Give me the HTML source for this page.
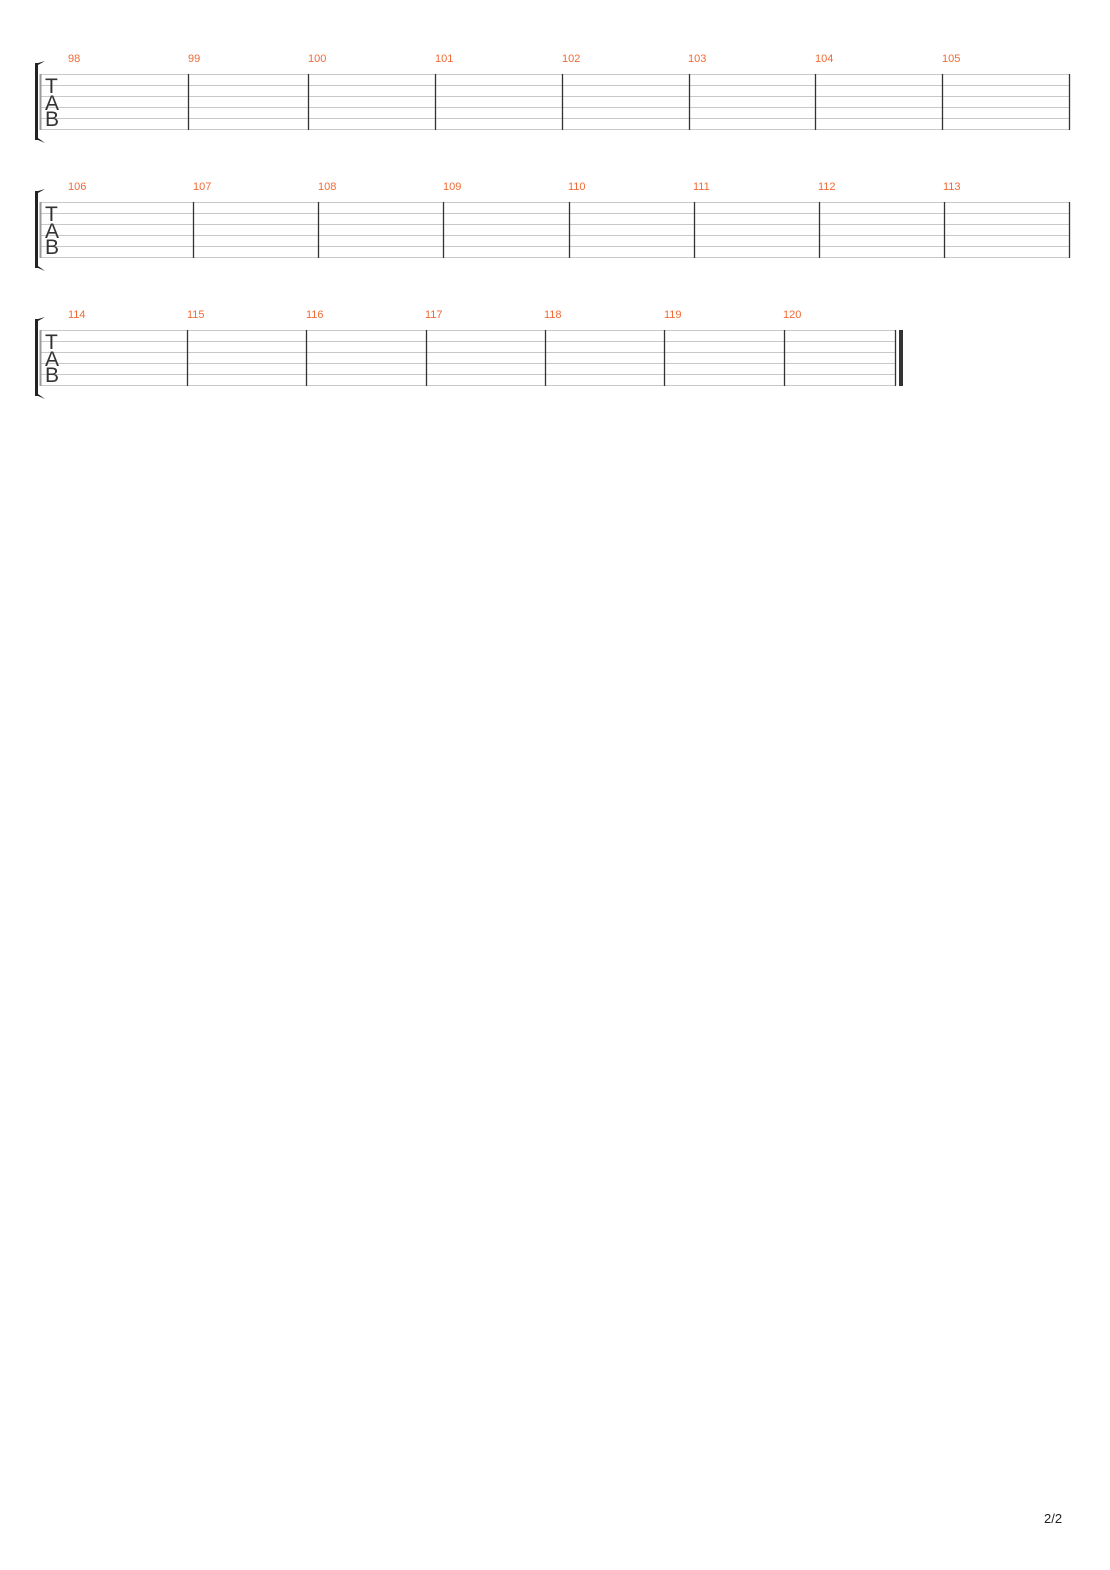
<!DOCTYPE html>
<html><head><meta charset="utf-8"><style>
html,body{margin:0;padding:0;background:#fff;}
svg{display:block}
</style></head><body>
<svg width="1110" height="1570" xmlns="http://www.w3.org/2000/svg" font-family="Liberation Sans, sans-serif">
<g id="s1">
  <g stroke="#c8c8c8" stroke-width="1">
    <line x1="40" y1="74.5" x2="1070" y2="74.5"/><line x1="40" y1="85.5" x2="1070" y2="85.5"/>
    <line x1="40" y1="96.5" x2="1070" y2="96.5"/><line x1="40" y1="107.5" x2="1070" y2="107.5"/>
    <line x1="40" y1="118.5" x2="1070" y2="118.5"/><line x1="40" y1="129.5" x2="1070" y2="129.5"/>
  </g>
  <line x1="40.5" y1="74" x2="40.5" y2="130" stroke="#999" stroke-width="2"/>
  <g stroke="#333" stroke-width="1.3">
    <line x1="188.5" y1="74" x2="188.5" y2="130"/><line x1="308.5" y1="74" x2="308.5" y2="130"/>
    <line x1="435.5" y1="74" x2="435.5" y2="130"/><line x1="562.5" y1="74" x2="562.5" y2="130"/>
    <line x1="689.5" y1="74" x2="689.5" y2="130"/><line x1="815.5" y1="74" x2="815.5" y2="130"/>
    <line x1="942.5" y1="74" x2="942.5" y2="130"/><line x1="1069.5" y1="74" x2="1069.5" y2="130"/>
  </g>
  <path d="M45,61 L38,63 L35,63 L35,140 L38,140 L45,143 L38,138 L38,65 Z" fill="#222"/>
  <g font-size="21" fill="#333"><text x="45" y="93">T</text><text x="45" y="110">A</text><text x="45" y="126">B</text></g>
  <g font-size="11" fill="#f06a35">
    <text x="68" y="62">98</text><text x="188" y="62">99</text><text x="308" y="62">100</text><text x="435" y="62">101</text>
    <text x="562" y="62">102</text><text x="688" y="62">103</text><text x="815" y="62">104</text><text x="942" y="62">105</text>
  </g>
</g>
<g transform="translate(0,128)">
  <g stroke="#c8c8c8" stroke-width="1">
    <line x1="40" y1="74.5" x2="1070" y2="74.5"/><line x1="40" y1="85.5" x2="1070" y2="85.5"/>
    <line x1="40" y1="96.5" x2="1070" y2="96.5"/><line x1="40" y1="107.5" x2="1070" y2="107.5"/>
    <line x1="40" y1="118.5" x2="1070" y2="118.5"/><line x1="40" y1="129.5" x2="1070" y2="129.5"/>
  </g>
  <line x1="40.5" y1="74" x2="40.5" y2="130" stroke="#999" stroke-width="2"/>
  <g stroke="#333" stroke-width="1.3">
    <line x1="193.5" y1="74" x2="193.5" y2="130"/><line x1="318.5" y1="74" x2="318.5" y2="130"/>
    <line x1="443.5" y1="74" x2="443.5" y2="130"/><line x1="569.5" y1="74" x2="569.5" y2="130"/>
    <line x1="694.5" y1="74" x2="694.5" y2="130"/><line x1="819.5" y1="74" x2="819.5" y2="130"/>
    <line x1="944.5" y1="74" x2="944.5" y2="130"/><line x1="1069.5" y1="74" x2="1069.5" y2="130"/>
  </g>
  <path d="M45,61 L38,63 L35,63 L35,140 L38,140 L45,143 L38,138 L38,65 Z" fill="#222"/>
  <g font-size="21" fill="#333"><text x="45" y="93">T</text><text x="45" y="110">A</text><text x="45" y="126">B</text></g>
  <g font-size="11" fill="#f06a35">
    <text x="68" y="62">106</text><text x="193" y="62">107</text><text x="318" y="62">108</text><text x="443" y="62">109</text>
    <text x="568" y="62">110</text><text x="693" y="62">111</text><text x="818" y="62">112</text><text x="943" y="62">113</text>
  </g>
</g>
<g transform="translate(0,256)">
  <g stroke="#c8c8c8" stroke-width="1">
    <line x1="40" y1="74.5" x2="896" y2="74.5"/><line x1="40" y1="85.5" x2="896" y2="85.5"/>
    <line x1="40" y1="96.5" x2="896" y2="96.5"/><line x1="40" y1="107.5" x2="896" y2="107.5"/>
    <line x1="40" y1="118.5" x2="896" y2="118.5"/><line x1="40" y1="129.5" x2="896" y2="129.5"/>
  </g>
  <line x1="40.5" y1="74" x2="40.5" y2="130" stroke="#999" stroke-width="2"/>
  <g stroke="#333" stroke-width="1.3">
    <line x1="187.5" y1="74" x2="187.5" y2="130"/><line x1="306.5" y1="74" x2="306.5" y2="130"/>
    <line x1="426.5" y1="74" x2="426.5" y2="130"/><line x1="545.5" y1="74" x2="545.5" y2="130"/>
    <line x1="664.5" y1="74" x2="664.5" y2="130"/><line x1="784.5" y1="74" x2="784.5" y2="130"/>
    <line x1="895.5" y1="74" x2="895.5" y2="130"/>
  </g>
  <rect x="899" y="74" width="4" height="56" fill="#333"/>
  <path d="M45,61 L38,63 L35,63 L35,140 L38,140 L45,143 L38,138 L38,65 Z" fill="#222"/>
  <g font-size="21" fill="#333"><text x="45" y="93">T</text><text x="45" y="110">A</text><text x="45" y="126">B</text></g>
  <g font-size="11" fill="#f06a35">
    <text x="68" y="62">114</text><text x="187" y="62">115</text><text x="306" y="62">116</text><text x="425" y="62">117</text>
    <text x="544" y="62">118</text><text x="664" y="62">119</text><text x="783" y="62">120</text>
  </g>
</g>
<text x="1044" y="1523" font-size="13" fill="#222">2/2</text>
</svg>
</body></html>
